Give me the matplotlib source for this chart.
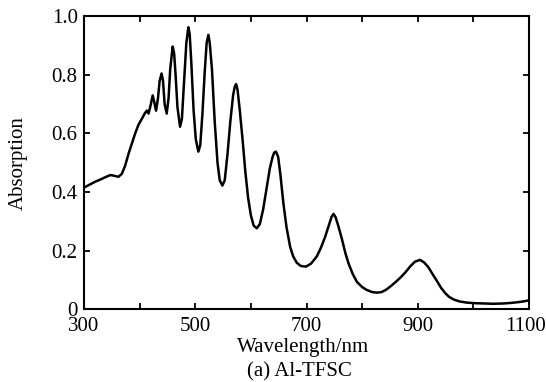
import matplotlib
matplotlib.use("Agg")
import matplotlib.pyplot as plt
import matplotlib.transforms as mtransforms

# absorption spectrum
wavelength = [300, 310, 320, 330, 340, 348, 355, 362, 368, 374, 380, 386, 392, 398,
              404, 409, 413, 416, 419, 423.5, 426, 429.5, 433, 436, 439.5, 442, 445,
              448.7, 452, 455, 459.4, 462, 465, 468, 472.7, 476, 480, 484, 487.6, 490,
              493, 497, 501, 505.6, 509, 513, 517, 520.5, 523.6, 526, 530, 535, 540,
              544, 548.8, 553, 558, 563, 568, 571, 573.4, 576, 580, 585, 590, 595, 600,
              605, 610.6, 616, 622, 628, 634, 639, 642, 645, 649, 653, 658.5, 664,
              670.5, 676, 682.5, 690, 699, 708, 718.5, 726, 733.5, 740, 745, 748.4,
              752, 757, 763.5, 770, 775.5, 783, 790.5, 800, 808.5, 818, 826.4, 835,
              843, 850, 860, 868, 878, 886, 895, 904, 911, 919, 927, 934, 942, 949,
              956, 964, 975, 988, 1003, 1018, 1036, 1054, 1068, 1078, 1090, 1100]
absorption = [0.415, 0.425, 0.435, 0.443, 0.452, 0.458, 0.455, 0.452, 0.462, 0.49,
              0.53, 0.565, 0.60, 0.63, 0.65, 0.668, 0.678, 0.668, 0.69, 0.73, 0.71,
              0.678, 0.72, 0.78, 0.805, 0.78, 0.70, 0.668, 0.72, 0.82, 0.897, 0.875,
              0.79, 0.69, 0.623, 0.65, 0.78, 0.91, 0.963, 0.94, 0.84, 0.68, 0.58,
              0.538, 0.56, 0.67, 0.81, 0.91, 0.937, 0.91, 0.82, 0.64, 0.50, 0.44,
              0.422, 0.44, 0.53, 0.64, 0.73, 0.76, 0.769, 0.75, 0.68, 0.58, 0.47,
              0.38, 0.32, 0.285, 0.276, 0.29, 0.34, 0.41, 0.48, 0.52, 0.535, 0.538,
              0.52, 0.46, 0.36, 0.28, 0.213, 0.18, 0.158, 0.147, 0.145, 0.155, 0.18,
              0.21, 0.247, 0.285, 0.315, 0.325, 0.315, 0.285, 0.24, 0.19, 0.156,
              0.12, 0.093, 0.075, 0.065, 0.058, 0.056, 0.058, 0.066, 0.076, 0.092,
              0.106, 0.126, 0.145, 0.162, 0.168, 0.16, 0.143, 0.118, 0.097, 0.072,
              0.055, 0.042, 0.033, 0.026, 0.022, 0.02, 0.019, 0.018, 0.019, 0.021,
              0.023, 0.026, 0.03]

x_ticks = [300, 400, 500, 600, 700, 800, 900, 1000, 1100]
x_tick_labels = ["300", "", "500", "", "700", "", "900", "", "1100"]
y_ticks = [0, 0.2, 0.4, 0.6, 0.8, 1.0]
y_tick_labels = ["0", "0.2", "0.4", "0.6", "0.8", "1.0"]

plt.rcParams["font.family"] = ["Liberation Serif", "DejaVu Serif"]

fig = plt.figure(figsize=(5.46, 3.82), dpi=100)
ax = fig.add_axes([0.1538, 0.191, 0.8152, 0.766])

ax.plot(wavelength, absorption, color="black", linewidth=1.8)

ax.set_xlim(300, 1100)
ax.set_ylim(0, 1.0)
ax.set_xticks(x_ticks)
ax.set_xticklabels(x_tick_labels)
ax.set_yticks(y_ticks)
ax.set_yticklabels(y_tick_labels)
ax.tick_params(direction="in", length=4, width=1.3, labelsize=15,
               top=True, right=True)
ax.tick_params(axis="x", pad=5.5)
ax.tick_params(axis="y", pad=4.5)

# nudge the last x label left so it stays inside the figure, like the original
last = ax.get_xticklabels()[-1]
last.set_transform(last.get_transform() +
                   mtransforms.ScaledTranslation(-4 / 100, 0, fig.dpi_scale_trans))

for spine in ax.spines.values():
    spine.set_linewidth(1.5)

ax.set_xlabel("Wavelength/nm", fontsize=15)
ax.xaxis.set_label_coords(0.493, -0.13)
ax.xaxis.label.set_va("center")
ax.set_ylabel("Absorption", fontsize=15)
ax.yaxis.set_label_coords(-0.148, 0.5)
ax.yaxis.label.set_va("center")
fig.text(0.549, 0.026, "(a) Al-TFSC", fontsize=15, ha="center", va="center")

fig.savefig("out.png", dpi=100)
